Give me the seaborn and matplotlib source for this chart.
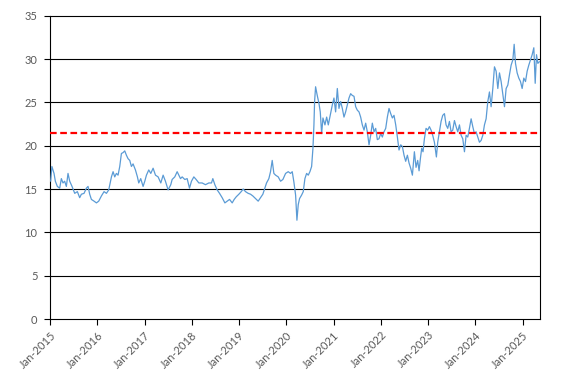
import pandas as pd
import seaborn as sns
import matplotlib.pyplot as plt
import matplotlib.dates as mdates

years = [
    2015.014, 2015.040, 2015.085, 2015.113, 2015.155, 2015.205, 2015.240, 2015.275, 2015.310, 2015.346,
    2015.381, 2015.417, 2015.466, 2015.523, 2015.579, 2015.628, 2015.664, 2015.720, 2015.770, 2015.805,
    2015.840, 2015.876, 2015.932, 2015.982, 2016.031, 2016.088, 2016.144, 2016.194, 2016.243, 2016.300,
    2016.335, 2016.370, 2016.405, 2016.440, 2016.476, 2016.511, 2016.546, 2016.582, 2016.617, 2016.652,
    2016.688, 2016.723, 2016.758, 2016.808, 2016.850, 2016.878, 2016.920, 2016.970, 2017.006, 2017.041,
    2017.090, 2017.133, 2017.182, 2017.232, 2017.288, 2017.345, 2017.394, 2017.443, 2017.500, 2017.556,
    2017.585, 2017.641, 2017.691, 2017.726, 2017.762, 2017.797, 2017.853, 2017.903, 2017.952, 2017.994,
    2018.044, 2018.093, 2018.150, 2018.220, 2018.291, 2018.361, 2018.418, 2018.446, 2018.489, 2018.538,
    2018.588, 2018.644, 2018.701, 2018.750, 2018.800, 2018.856, 2018.898, 2018.941, 2018.997, 2019.047,
    2019.089, 2019.138, 2019.195, 2019.244, 2019.293, 2019.350, 2019.406, 2019.456, 2019.505, 2019.547,
    2019.583, 2019.632, 2019.667, 2019.703, 2019.738, 2019.774, 2019.830, 2019.880, 2019.929, 2019.986,
    2020.042, 2020.091, 2020.127, 2020.162, 2020.198, 2020.226, 2020.254, 2020.282, 2020.325, 2020.360,
    2020.395, 2020.431, 2020.466, 2020.501, 2020.537, 2020.565, 2020.586, 2020.600, 2020.621, 2020.656,
    2020.692, 2020.720, 2020.749, 2020.777, 2020.819, 2020.855, 2020.890, 2020.939, 2020.975, 2021.010,
    2021.045, 2021.081, 2021.116, 2021.151, 2021.187, 2021.222, 2021.257, 2021.293, 2021.328, 2021.363,
    2021.398, 2021.434, 2021.469, 2021.504, 2021.540, 2021.575, 2021.610, 2021.646, 2021.681, 2021.716,
    2021.752, 2021.787, 2021.822, 2021.858, 2021.893, 2021.928, 2021.963, 2021.999, 2022.034, 2022.069,
    2022.105, 2022.140, 2022.175, 2022.211, 2022.246, 2022.281, 2022.317, 2022.352, 2022.387, 2022.423,
    2022.458, 2022.493, 2022.528, 2022.564, 2022.599, 2022.634, 2022.670, 2022.712, 2022.747, 2022.782,
    2022.811, 2022.839, 2022.867, 2022.895, 2022.924, 2022.959, 2022.994, 2023.030, 2023.065, 2023.100,
    2023.136, 2023.178, 2023.206, 2023.242, 2023.277, 2023.312, 2023.348, 2023.383, 2023.418, 2023.454,
    2023.489, 2023.524, 2023.560, 2023.595, 2023.630, 2023.666, 2023.701, 2023.736, 2023.772, 2023.807,
    2023.842, 2023.877, 2023.913, 2023.948, 2023.983, 2024.019, 2024.054, 2024.089, 2024.124, 2024.160,
    2024.195, 2024.230, 2024.266, 2024.301, 2024.336, 2024.372, 2024.407, 2024.442, 2024.478, 2024.513,
    2024.548, 2024.584, 2024.619, 2024.654, 2024.690, 2024.725, 2024.760, 2024.796, 2024.824, 2024.852,
    2024.887, 2024.922, 2024.958, 2024.993, 2025.028, 2025.064, 2025.099, 2025.134, 2025.170, 2025.205,
    2025.240, 2025.269, 2025.297, 2025.325, 2025.360,
]
values = [
    15.9, 17.6, 16.8, 15.9, 15.3, 15.1, 16.2, 15.7, 15.9, 15.3,
    16.8, 15.9, 15.3, 14.5, 14.7, 14.0, 14.4, 14.5, 15.1, 15.3,
    14.4, 13.8, 13.6, 13.4, 13.6, 14.2, 14.7, 14.5, 14.9, 16.4,
    17.0, 16.4, 16.8, 16.6, 17.6, 19.1, 19.2, 19.4, 18.9, 18.5,
    18.3, 17.6, 17.9, 17.2, 16.4, 15.7, 16.2, 15.3, 15.9, 16.6,
    17.2, 16.8, 17.4, 16.6, 16.4, 15.7, 16.6, 15.9, 14.9, 15.5,
    16.1, 16.4, 17.0, 16.6, 16.2, 16.4, 16.1, 16.2, 15.1, 15.9,
    16.4, 16.1, 15.7, 15.7, 15.5, 15.7, 15.7, 16.2, 15.5, 14.9,
    14.5, 14.0, 13.4, 13.6, 13.8, 13.4, 13.8, 14.1, 14.4, 14.7,
    15.0, 14.7, 14.5, 14.4, 14.2, 13.9, 13.6, 14.0, 14.4, 15.1,
    15.7, 16.2, 17.0, 18.3, 16.8, 16.6, 16.4, 15.9, 16.1, 16.8,
    17.0, 16.8, 17.0, 15.8, 14.3, 11.4, 13.2, 13.9, 14.3, 14.7,
    16.2, 16.8, 16.6, 17.0, 17.6, 19.7, 22.4, 25.1, 26.8, 25.8,
    24.9, 23.9, 21.4, 23.2, 22.4, 23.3, 22.4, 23.7, 24.7, 25.5,
    23.9, 26.6, 24.3, 25.1, 24.3, 23.3, 23.9, 24.7, 25.5, 26.0,
    25.8, 25.7, 24.5, 24.1, 23.9, 23.3, 22.4, 21.8, 22.6, 21.6,
    20.1, 21.2, 22.6, 21.6, 22.0, 20.7, 20.8, 21.4, 21.0, 21.6,
    22.0, 23.3, 24.3, 23.7, 23.2, 23.5, 22.4, 21.0, 19.5, 20.1,
    19.9, 18.9, 18.2, 18.9, 18.0, 17.4, 16.6, 19.3, 17.5, 18.3,
    17.1, 18.5, 19.7, 19.3, 20.8, 22.0, 21.8, 22.2, 21.8, 21.2,
    20.4, 18.7, 20.4, 21.6, 22.8, 23.5, 23.7, 22.4, 22.0, 22.8,
    21.6, 21.8, 22.9, 22.2, 21.6, 22.4, 21.2, 20.8, 19.3, 21.2,
    21.0, 22.0, 23.1, 22.2, 21.4, 21.6, 21.0, 20.4, 20.6, 21.2,
    22.4, 23.1, 25.1, 26.2, 24.5, 26.6, 29.1, 28.6, 26.6, 28.4,
    27.4, 25.9, 24.5, 26.6, 27.0, 28.2, 29.3, 29.9, 31.7, 29.5,
    28.4, 27.8, 27.4, 26.6, 27.8, 27.4, 28.6, 29.3, 29.9, 30.5,
    31.3, 27.2, 30.5, 29.5, 29.7,
]
average = 21.45

df = pd.DataFrame({'year': years, 'value': values})
df['date'] = pd.Timestamp('2015-01-01') + pd.to_timedelta(
    (df['year'] - 2015) * 365.25, unit='D')

sns.set_style('white')
plt.rcParams['font.family'] = ['Lato', 'DejaVu Sans']

fig = plt.figure(figsize=(5.67, 3.82), dpi=100)
ax = fig.add_axes([0.0882, 0.1649, 0.8642, 0.794])

# horizontal grid
for v in range(5, 35, 5):
    ax.axhline(v, color='black', lw=0.8, zorder=1)

sns.lineplot(data=df, x='date', y='value', color='#5B9BD5', lw=0.9, ax=ax, zorder=3)
ax.axhline(average, color='#FF0000', lw=1.6, linestyle=(0, (3, 1.6)), zorder=4)

ax.set_ylim(0, 35)
ax.set_yticks(range(0, 36, 5))
ax.set_xlim(pd.Timestamp('2015-01-01'), pd.Timestamp('2025-05-16'))
ax.xaxis.set_major_locator(mdates.YearLocator())
ax.xaxis.set_major_formatter(mdates.DateFormatter('Jan-%Y'))
ax.set_xlabel('')
ax.set_ylabel('')

for s in ax.spines.values():
    s.set_color('black')
    s.set_linewidth(0.8)

ax.tick_params(axis='both', which='major', direction='out', length=4, width=0.8,
               color='black', labelcolor='#595959', labelsize=8, left=True, bottom=True)
ax.tick_params(axis='y', pad=5)
for lbl in ax.get_xticklabels():
    lbl.set_rotation(45)
    lbl.set_ha('right')
    lbl.set_rotation_mode('anchor')

fig.savefig('out.png', dpi=100)
